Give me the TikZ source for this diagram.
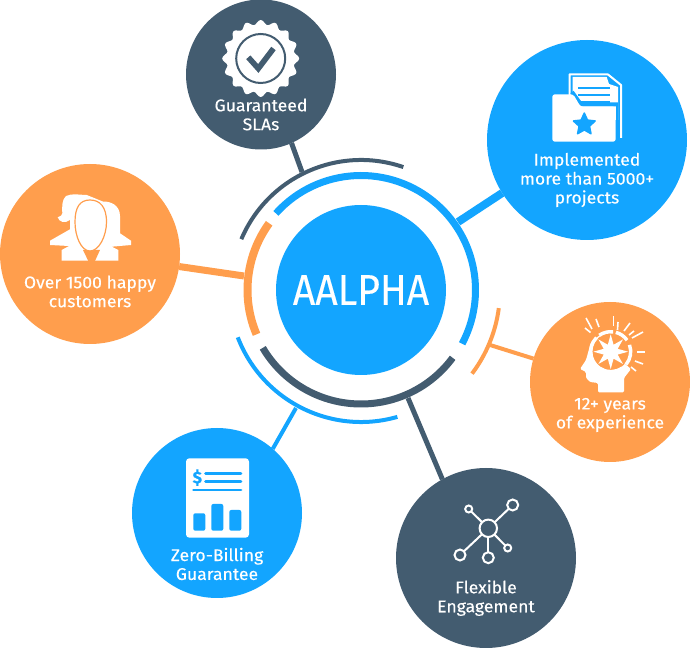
\documentclass[tikz,border=0pt]{standalone}
\usepackage{fontspec}
\setmainfont{Fira Sans}[FakeBold=.25,FakeStretch=1.04]
\usetikzlibrary{shapes.geometric}
\definecolor{aablue}{HTML}{13A5FF}
\definecolor{aadark}{HTML}{435C70}
\definecolor{aaorange}{HTML}{FF9E4D}
\begin{document}
\begin{tikzpicture}[x=.75pt,y=-.75pt]
    \tikzstyle{main}=[circle, inner sep=0, outer sep=0]
    \tikzstyle{word}=[text=white, align=center, inner sep=0, font=\fontsize{12.7}{14.2}\selectfont]
    \tikzstyle{glyph}=[circle, draw=white, line width=1.5pt, fill=none, inner sep=0, outer sep=0]
    \useasboundingbox (0,0) rectangle (690,648);
    \node[main, fill=aablue, minimum size=127.5pt] (hub) at (361,290) {};
    \node[text=white, inner sep=0, font=\fontsize{32.5}{36}\selectfont] (hubword) at (361,290) {\scalebox{.87}[1]{AALPHA}};
    \foreach \name/\x/\y/\rad/\col in {sla/261/74.5/75/aadark,proj/587/140/100/aablue,exp/610/382/80/aaorange,happy/90/254/90/aaorange,bill/217/513/85/aablue,flex/486/558/90/aadark} {
        \node[main, fill=\col, minimum size=\rad*1.5pt] (\name) at (\x,\y) {};
    }
    \foreach \rad/\w/\col/\from/\to in {114.5/7/aablue/138/-28,130/4/aadark/157/71,113.5/8/aaorange/144/203,132/4/aablue/201/286,114/7/aadark/210.5/323.5,139/4/aaorange/-7.5/-37} {
        \draw[\col, line width=\w*.75pt] ([shift={(-\from:\rad)}]hub.center) arc (-\from:-\to:\rad);
    }
    \coordinate (slaend) at (302,172);
    \coordinate (projend) at (458,222);
    \coordinate (expend) at (490,345);
    \coordinate (happyend) at (244,276);
    \coordinate (billend) at (296,408);
    \coordinate (flexend) at (408,398);
    \foreach \name/\ang/\w/\col in {sla/-66.5/5/aadark,proj/212/8/aablue,exp/163/4/aaorange,happy/-8.5/7/aaorange,bill/49/4/aablue,flex/119/5/aadark} {
        \draw[\col, line width=\w*.75pt] (\name.\ang) -- (\name end);
    }
    \node[word] (slaword) at (261,114.5) {Guaranteed\\SLAs};
    \node[word] (projword) at (587,180) {Implemented\\more than 5000+\\projects};
    \node[word] (expword) at (610,415) {12+ years\\of experience};
    \node[word] (happyword) at (90,291.5) {Over 1500 happy\\customers};
    \node[word] (billword) at (217,564) {Zero-Billing\\Guarantee};
    \node[word] (flexword) at (486,598) {Flexible\\Engagement};
    % badge
    \fill[white, shift={(260.7,58.5)}] plot[domain=0:360, samples=121, smooth] (\x:{36.2+2.3*cos(16*\x)}) -- cycle;
    \draw[aadark, line width=1.5pt] (260.7,58.5) circle (24.5);
    \draw[aadark, line width=4.2pt, line join=miter] (248.3,57.3) -- (258.3,68.5) -- (273.5,48.5);
    % folder
    \draw[white, line width=1.5pt, line join=round] (569.5,95) -- (569.5,74.5) -- (608,74.5) -- (621,85) -- (621,138);
    \fill[white] (572.5,77) -- (606.7,77) -- (609,84) -- (618,87) -- (618,120) -- (572.5,120) -- cycle;
    \foreach \y in {88.3,95,101.7} {
        \draw[aablue, line width=1.5pt] (578,\y) -- (610,\y);
    }
    \draw[aablue, line width=3pt] (572,92) -- (581,104.5) -- (618,104.5);
    \draw[aablue, line width=2pt] (617,105) -- (617,143);
    \fill[white, rounded corners=2pt] (552.3,94.3) -- (573.3,94.3) -- (580.5,106.7) -- (615.7,106.7) -- (615.7,141.7) -- (552.3,141.7) -- cycle;
    \node[star, star points=5, star point ratio=2.1, fill=aablue, draw=aablue, line width=1.2pt, line join=round, minimum size=17pt, inner sep=0] (folderstar) at (584.3,124.5) {};
    % head
    \fill[white, rounded corners=1pt] (591,342) -- (586,360) -- (580,369) -- (586,372) -- (586,378) -- (590,382) -- (598,383) -- (598,392.5) -- (624,392.5) -- (624,378) -- (631,369) -- (610.7,351.7) -- (600,335) -- cycle;
    \fill[aaorange] (610.7,351.7) circle (18.5);
    \foreach \from/\to in {83/125,35/75,-40/20,-55/-120,135/250} {
        \draw[white, line width=2.6pt] ([shift={(-\from:20)}]610.7,351.7) arc (-\from:-\to:20);
    }
    \node[star, star points=8, star point ratio=2.3, fill=white, minimum size=26pt, inner sep=0] (burst) at (610.7,351.7) {};
    \foreach \xa/\ya/\xb/\yb in {586/318/592/329,596/319/599/327,613.5/316/613.5/326,618/322/617.5/330,630/323/624/331,634/331/629/335,643/332/632/338,645/352/637/352,643/364/635/361,636/371/631/367,585/328/590.5/332.5} {
        \draw[white, line width=1.2pt] (\xa,\ya) -- (\xb,\yb);
    }
    % people
    \fill[white] (61.7,260.7) -- (61.7,250) -- (69,246) -- (50,245) -- (50,240.7) -- (70,229.3) -- (70,220) .. controls (65,224) and (59,222) .. (57.7,217.3) .. controls (61,216) and (62.3,215) .. (62.3,213.3) .. controls (62,205) and (62,200) .. (66,196) .. controls (72,193) and (80,195) .. (86.7,195) -- (103.3,201.7) .. controls (110,201) and (120,205) .. (120,216) -- (120,233.3) -- (131,240.7) -- (131,245) -- (111.7,246.7) -- (118.3,250) -- (118.3,260.7) -- cycle;
    \fill[aaorange] (83,250) -- (88.3,261) -- (95,261) -- (100,250) -- cycle;
    \draw[aaorange, fill=white, line width=.9pt] (90,200) .. controls (100,200) and (106.5,207) .. (106.5,222) .. controls (106.5,236) and (99,251) .. (90,251) .. controls (81,251) and (75,236) .. (75,222) .. controls (75,207) and (80,200) .. (90,200) -- cycle;
    % invoice
    \fill[white, rounded corners=2.5pt] (186,458.3) rectangle (249,537.7);
    \node[text=aablue, inner sep=0, font=\fontsize{12.5}{14}\selectfont\bfseries] (dollar) at (197.3,477.7) {\$};
    \foreach \xa/\y in {205.7/473.3,205.7/481.7,193.5/490} {
        \draw[aablue, line width=2.2pt, line cap=round] (\xa,\y) -- (241,\y);
    }
    \foreach \xa/\ya in {193.3/513.3,211.3/504,229.3/510} {
        \fill[aablue, rounded corners=1.5pt] (\xa,\ya) rectangle (\xa+12,530.7);
    }
    % network
    \foreach \name/\x/\y/\rad in {core/488.3/528.3/8.7,nodea/512.7/505/5.5,nodeb/468.7/509/3.5,nodec/460/555/5.5,noded/488.3/557.7/5.5,nodee/507.7/548/3.5} {
        \node[glyph, minimum size=\rad*1.5pt] (\name) at (\x,\y) {};
    }
    \foreach \name in {nodea,nodeb,nodec,noded,nodee} {
        \draw[white, line width=1.5pt] (core) -- (\name);
    }
\end{tikzpicture}
\end{document}
